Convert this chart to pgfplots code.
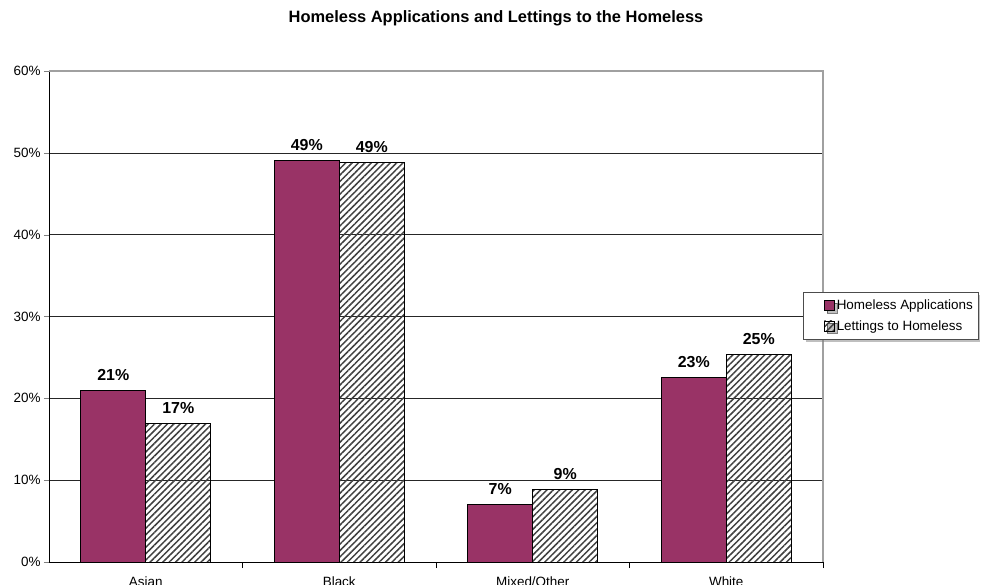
\documentclass[border=0pt]{standalone}
\usepackage{pgfplots}
\pgfplotsset{compat=1.18}
\usepackage{fontspec}
\setmainfont{Liberation Sans}
\usetikzlibrary{patterns.meta,shadows}
\definecolor{maroon}{HTML}{993366}
\definecolor{hatch}{HTML}{404040}
\definecolor{frame}{HTML}{A0A0A0}
\begin{document}
\begin{tikzpicture}
\begin{axis}[
  at={(0,0)}, anchor=south west,
  scale only axis, width=774bp, height=491bp,
  xmin=-0.5, xmax=3.5, ymin=0, ymax=60,
  axis x line*=bottom, axis y line*=left,
  axis line style={black, line width=0.9pt},
  /pgf/number format/assume math mode=true,
  ybar=0pt, bar width=65bp,
  xtick={0,1,2,3},
  xticklabels={Asian,Black,Mixed/Other,White},
  major x tick style={draw=none},
  minor xtick={0.5,1.5,2.5,3.5},
  minor tick length=6bp,
  xtick style={black},
  tick align=outside,
  ytick={0,10,20,30,40,50,60},
  yticklabels={0\%,10\%,20\%,30\%,40\%,50\%,60\%},
  major tick length=5bp,
  ymajorgrids, grid style={black!85, line width=0.6pt},
  tick label style={font=\fontsize{13.5}{15}\selectfont},
  xticklabel style={yshift=-6bp},
  nodes near coords={\pgfmathprintnumber[fixed,precision=0,assume math mode=true]{\pgfplotspointmeta}\%},
  nodes near coords style={font=\fontsize{16}{18}\selectfont\bfseries, yshift=6bp},
  legend style={at={(0.974,0.550)}, anchor=north west,
    draw=black!70, fill=white, drop shadow={shadow xshift=2.5bp, shadow yshift=-2.5bp, fill=black!50},
    font=\fontsize{13.5}{19}\selectfont, inner xsep=3bp, inner ysep=6bp, row sep=5bp,
    legend cell align=left},
  legend image code/.code={\path (0bp,0bp); \draw[#1, draw=black] (18bp,-5bp) rectangle (28bp,5bp);},
  clip=false,
  after end axis/.code={\draw[frame, line width=1.2pt] (rel axis cs:0,1) -- (rel axis cs:1,1) -- (rel axis cs:1,0);},
]
\addplot[fill=maroon, draw=black, line width=0.7pt] coordinates {(0,21.0) (1,49.1) (2,7.0) (3,22.6)};
\addplot[pattern={Lines[angle=45,distance=4.5bp,line width=1.5bp]}, pattern color=hatch, draw=black, line width=0.7pt] coordinates {(0,16.9) (1,48.8) (2,8.9) (3,25.4)};
\legend{Homeless Applications,Lettings to Homeless}
\end{axis}
\node[font=\fontsize{16.5}{19}\selectfont\bfseries] at (447bp,544bp) {Homeless Applications and Lettings to the Homeless};
\pgfresetboundingbox
\path[use as bounding box] (-49bp,-23bp) rectangle (934bp,562bp);
\end{tikzpicture}
\end{document}
